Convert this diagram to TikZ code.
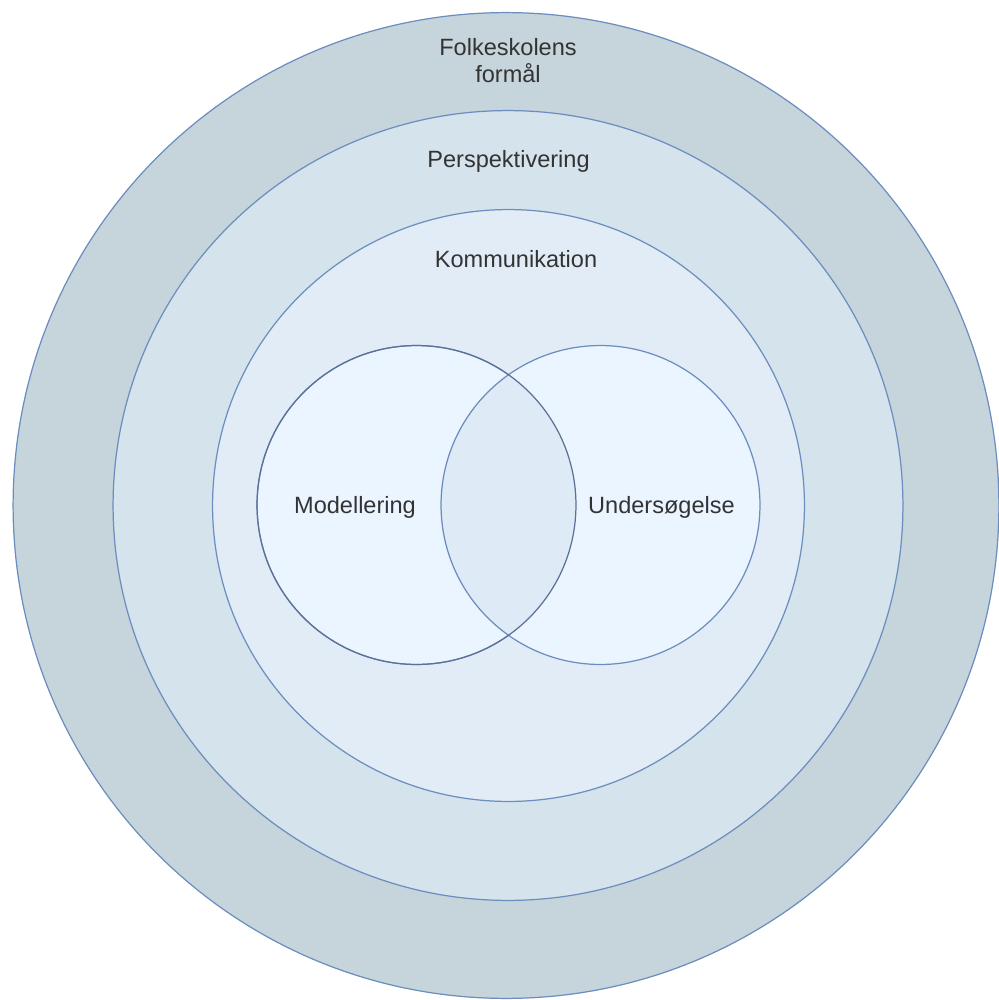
\documentclass[tikz,border=0pt]{standalone}
\usepackage{fontspec}
\setmainfont{Liberation Sans}
\usepackage{tikz}

\definecolor{folkfill}{HTML}{C6D4DB}
\definecolor{perspfill}{HTML}{D5E3EC}
\definecolor{kommfill}{HTML}{E2ECF6}
\definecolor{vennfill}{HTML}{EBF5FF}
\definecolor{ringline}{HTML}{6C8EBF}
\definecolor{modline}{HTML}{5C7196}
\definecolor{txtgray}{HTML}{333333}

\begin{document}
\begin{tikzpicture}[x=0.02cm, y=-0.02cm,
    ring/.style={circle, draw=ringline, line width=0.7pt, inner sep=0pt, outer sep=0pt},
    lbl/.style={text=txtgray, font=\fontsize{13.4}{15.4}\selectfont, inner sep=0pt, align=center}]
            \useasboundingbox (0,0) rectangle (999,1000);
            % rings
            \node [ring, fill=folkfill, minimum size=19.72cm] (folk) at (506,505.5) {};
            \node [ring, fill=perspfill, minimum size=15.8cm] (persp) at (508,505.5) {};
            \node [ring, fill=kommfill, minimum size=11.84cm] (komm) at (508.5,505.5) {};
            % venn
            \node [ring, fill=vennfill, minimum size=6.38cm] (modl) at (416.5,505) {};
            \node [ring, fill=vennfill, minimum size=6.38cm] (unders) at (600.5,505) {};
            \begin{scope}
                \clip (modl.center) circle [radius=3.19cm];
                \fill [ringline!80!black, fill opacity=0.08] (unders.center) circle [radius=3.19cm];
            \end{scope}
            \draw [modline, line width=0.7pt] (modl.center) circle [radius=3.19cm];
            % labels
            \node [lbl] (folk-text) at (508,60.5) {Folkeskolens\\formål};
            \node [lbl, anchor=base] (persp-text) at (508.5,168) {Perspektivering};
            \node [lbl, anchor=base] (komm-text) at (516,267) {Kommunikation};
            \node [lbl] (modl-text) at (355,507) {Modellering};
            \node [lbl] (unders-text) at (661.5,507) {Undersøgelse};
        \end{tikzpicture}
\end{document}
